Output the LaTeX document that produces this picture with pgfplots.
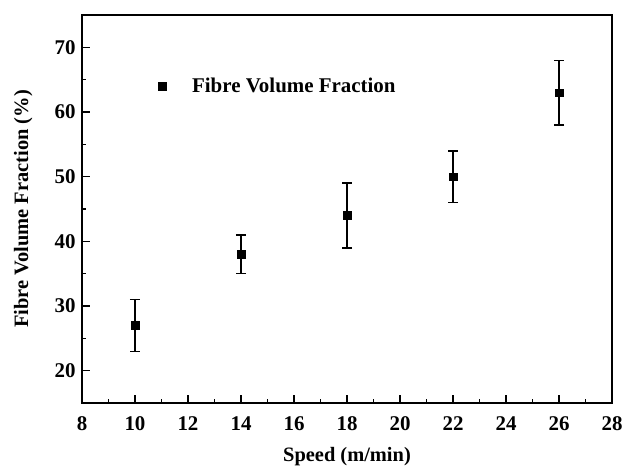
\documentclass[border=0pt]{standalone}
\usepackage{pgfplots}
\pgfplotsset{compat=1.18}
\usepackage{fontspec}
\setmainfont{Liberation Serif}
\begin{document}
\begin{tikzpicture}
\path[use as bounding box] (-82bp,-63bp) rectangle (551bp,403bp);
\begin{axis}[
  at={(0,0)}, anchor=south west,
  scale only axis, width=530bp, height=388bp,
  xmin=8, xmax=28, ymin=15, ymax=75,
  xtick={8,10,...,28}, ytick={20,30,...,70},
  minor x tick num=1, minor y tick num=1,
  xtick pos=left, ytick pos=left, tick align=inside,
  major tick length=8bp, minor tick length=4bp,
  axis line style={line width=1.6bp},
  every tick/.style={line width=1.4bp, black},
  tick label style={font=\fontsize{21}{24}\selectfont\bfseries},
  xticklabel style={yshift=-10bp},
  yticklabel style={xshift=-3bp},
  /pgf/number format/assume math mode=true,
  label style={font=\fontsize{20.5}{24}\selectfont\bfseries},
  xlabel={Speed (m/min)}, ylabel={Fibre Volume Fraction (\%)},
  xlabel style={at={(0.5,-0.137)}, anchor=center},
  ylabel style={at={(-0.111,0.5)}, anchor=center},
  legend style={draw=none, fill=none, at={(0.138,0.817)}, anchor=west,
    font=\fontsize{21}{24}\selectfont\bfseries},
  legend image code/.code={\draw[#1] plot coordinates {(0.3cm,0cm)};},
]
\addplot[only marks, mark=square*, mark size=3.9bp, black,
  error bars/.cd, y dir=both, y explicit,
  error bar style={line width=1.5bp, black},
  error mark options={rotate=90, mark size=5bp, line width=1.5bp, black}]
  coordinates {
  (10,27) +- (0,4)
  (14,38) +- (0,3)
  (18,44) +- (0,5)
  (22,50) +- (0,4)
  (26,63) +- (0,5)
};
\addlegendentry{\hspace{24bp}Fibre Volume Fraction}
\end{axis}
\end{tikzpicture}
\end{document}
